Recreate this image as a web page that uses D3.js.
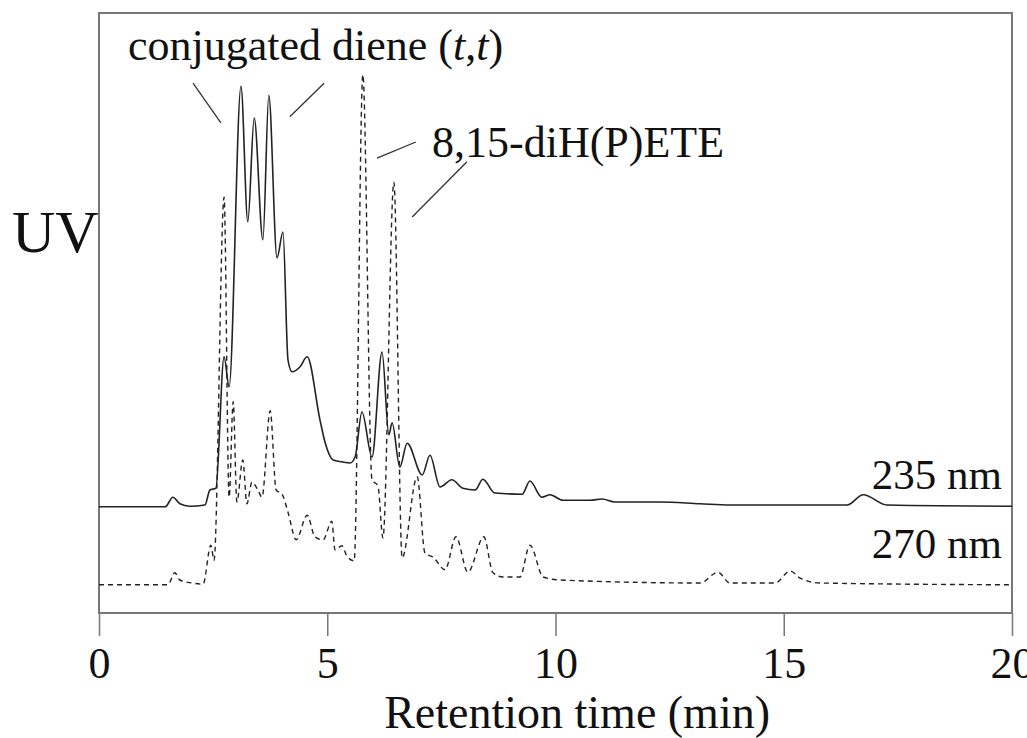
<!DOCTYPE html>
<html lang="en">

<head>
  <meta charset="UTF-8">
  <title>HPLC chromatogram</title>
  <script src="https://d3js.org/d3.v7.min.js"></script>
  <style>
    body { margin: 0; background: #fff; }
    text { font-family: "Liberation Serif", "Times New Roman", serif; fill: #111; }
  </style>
</head>

<body>

  <svg width="1027" height="738" id="chart"></svg>

  <script>
    // retention time (min) and detector response for each wavelength trace
    const time235 = [0, 1.45, 1.62, 1.77, 1.99, 2.32, 2.43, 2.56, 2.74, 2.85, 3.11, 3.26, 3.40, 3.59, 3.72, 3.90, 4.03,
      4.14, 4.23, 4.40, 4.56, 4.84, 4.95, 5.13, 5.32, 5.50, 5.61, 5.76, 5.98, 6.20, 6.35, 6.42, 6.59, 6.75, 7.08, 7.25,
      7.47, 7.73, 7.97, 8.24, 8.41, 8.67, 9.27, 9.44, 9.70, 9.88, 10.16, 10.76, 11.02, 11.30, 12.29, 13.17, 13.82,
      16.39, 16.74, 17.26, 20];
    const uv235 = [17.7, 17.7, 19.3, 18.2, 17.8, 18.0, 20.5, 20.8, 42.7, 37.7, 87.8, 65.2, 82.5, 62.2, 86.3, 59.2, 63.5,
      42.2, 40.2, 41.0, 42.7, 32.2, 28.5, 25.5, 25.2, 25.0, 26.0, 33.5, 26.0, 43.5, 29.7, 31.7, 24.3, 28.3, 23.0, 26.3,
      21.0, 22.2, 20.8, 20.5, 22.3, 20.0, 19.8, 22.0, 19.3, 19.7, 18.8, 18.8, 19.0, 18.5, 18.5, 18.2, 18.0,
      18.0, 19.7, 18.0, 17.8];

    const time270 = [0, 1.51, 1.66, 1.77, 2.04, 2.28, 2.45, 2.52, 2.74, 2.85, 2.94, 3.02, 3.15, 3.24, 3.35, 3.48, 3.57,
      3.75, 3.88, 4.01, 4.14, 4.32, 4.56, 4.73, 4.91, 5.10, 5.17, 5.32, 5.43, 5.59, 5.78, 5.98, 6.11, 6.22, 6.46, 6.64,
      6.97, 7.14, 7.32, 7.58, 7.82, 8.08, 8.43, 8.63, 8.85, 9.22, 9.44, 9.73, 10.10, 13.17, 13.56, 13.82, 14.81,
      15.14, 15.36, 15.79, 20];
    const uv270 = [4.7, 4.7, 6.7, 5.5, 5.0, 4.8, 11.3, 8.8, 69.3, 19.3, 35.2, 18.5, 25.5, 18.2, 21.8, 20.5, 19.3,
      33.7, 20.5, 19.8, 16.8, 12.2, 16.3, 12.7, 12.2, 15.3, 10.5, 11.2, 9.5, 8.7, 89.7, 22.2, 21.2, 12.5, 71.8, 9.2,
      22.7, 10.0, 9.3, 7.2, 12.7, 6.8, 12.7, 6.7, 6.0, 6.0, 11.3, 6.0, 5.5, 5.0, 6.8, 5.0, 5.0,
      7.0, 5.8, 5.0, 4.7];

    const xTicks = [0, 5, 10, 15, 20];

    // leader lines from the peak labels, [t1, v1, t2, v2]
    const leaders = [
      [2.06, 88.3, 2.67, 81.7],
      [4.93, 88.3, 4.18, 82.7],
      [6.94, 78.5, 6.09, 75.8],
      [8.06, 75.2, 6.86, 66.0]
    ];

    const svg = d3.select('#chart');
    const margin = { top: 13, right: 15, bottom: 125, left: 99 };
    const innerWidth = +svg.attr('width') - margin.left - margin.right;
    const innerHeight = +svg.attr('height') - margin.top - margin.bottom;

    const x = d3.scaleLinear().domain([0, 20]).range([0, innerWidth]);
    const y = d3.scaleLinear().domain([0, 100]).range([innerHeight, 0]);

    const g = svg.append('g').attr('transform', `translate(${margin.left},${margin.top})`);

    // frame
    g.append('rect')
      .attr('width', innerWidth).attr('height', innerHeight)
      .attr('fill', 'none').attr('stroke', '#777').attr('stroke-width', 2);

    // x axis
    const xAxis = d3.axisBottom(x).tickValues(xTicks).tickSize(23).tickPadding(11).tickFormat(d3.format('d'));
    const ax = g.append('g').attr('transform', `translate(0,${innerHeight})`).call(xAxis);
    ax.select('.domain').remove();
    ax.selectAll('line').attr('stroke', '#777').attr('stroke-width', 1.5);
    ax.selectAll('text').attr('font-size', 44).attr('font-family', '"Liberation Serif", serif').attr('fill', '#111');

    // traces
    const line = d3.line().x(d => x(d[0])).y(d => y(d[1])).curve(d3.curveMonotoneX);

    g.append('path')
      .datum(d3.zip(time270, uv270))
      .attr('d', line)
      .attr('fill', 'none').attr('stroke', '#222').attr('stroke-width', 1.4)
      .attr('stroke-dasharray', '5,4');

    g.append('path')
      .datum(d3.zip(time235, uv235))
      .attr('d', line)
      .attr('fill', 'none').attr('stroke', '#222').attr('stroke-width', 1.6);

    // leader lines
    g.selectAll('.leader').data(leaders).join('line')
      .attr('class', 'leader')
      .attr('x1', d => x(d[0])).attr('y1', d => y(d[1]))
      .attr('x2', d => x(d[2])).attr('y2', d => y(d[3]))
      .attr('stroke', '#333').attr('stroke-width', 1.3);

    // labels
    const title = svg.append('text').attr('x', 128).attr('y', 60).attr('font-size', 44);
    title.append('tspan').text('conjugated diene (');
    title.append('tspan').attr('font-style', 'italic').text('t');
    title.append('tspan').text(',');
    title.append('tspan').attr('font-style', 'italic').text('t');
    title.append('tspan').text(')');

    svg.append('text').attr('x', 432).attr('y', 157).attr('font-size', 44).text('8,15-diH(P)ETE');

    svg.append('text').attr('x', 1002).attr('y', 489).attr('font-size', 43)
      .attr('text-anchor', 'end').text('235 nm');
    svg.append('text').attr('x', 1002).attr('y', 558).attr('font-size', 43)
      .attr('text-anchor', 'end').text('270 nm');

    svg.append('text').attr('x', 12).attr('y', 252).attr('font-size', 60).text('UV');

    svg.append('text').attr('x', 770).attr('y', 728).attr('font-size', 46)
      .attr('text-anchor', 'end').text('Retention time (min)');
  </script>
</body>

</html>
